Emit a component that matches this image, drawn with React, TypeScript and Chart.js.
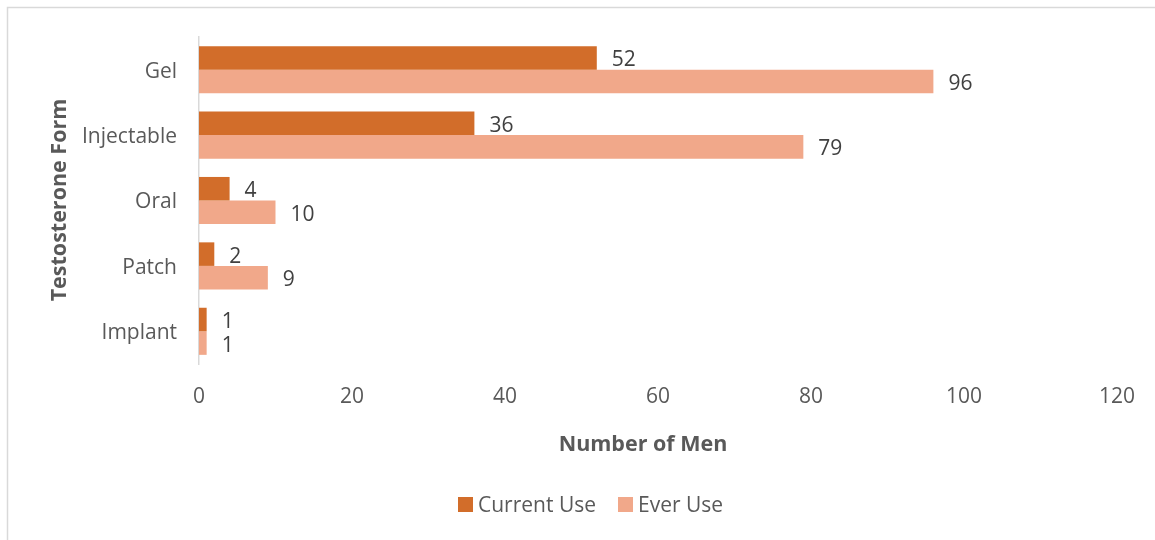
import React, { useEffect, useRef } from "react";
import { Chart, registerables } from "chart.js";

Chart.register(...registerables);

const categories = ["Gel", "Injectable", "Oral", "Patch", "Implant"];
const currentUse = [52, 36, 4, 2, 1];
const everUse = [96, 79, 10, 9, 1];
const seriesNames = ["Current Use", "Ever Use"];
const xTitle = "Number of Men";
const yTitle = "Testosterone Form";

const DARK = "#D26D2A";
const LIGHT = "#F1A88A";
const FONT = "'Open Sans', Lato, sans-serif";

const decorPlugin = {
  id: "decor",
  beforeDraw(chart: any) {
    const ctx = chart.ctx;
    ctx.save();
    ctx.strokeStyle = "#D9D9D9";
    ctx.lineWidth = 1.5;
    ctx.beginPath();
    ctx.moveTo(7.5, 540);
    ctx.lineTo(7.5, 7.5);
    ctx.lineTo(1155, 7.5);
    ctx.stroke();
    ctx.restore();
  },
  afterDatasetsDraw(chart: any) {
    const ctx = chart.ctx;
    ctx.save();
    ctx.font = `21px ${FONT}`;
    ctx.fillStyle = "#404040";
    ctx.textAlign = "left";
    ctx.textBaseline = "middle";
    chart.data.datasets.forEach((ds: any, i: number) => {
      const meta = chart.getDatasetMeta(i);
      meta.data.forEach((bar: any, j: number) => {
        ctx.fillText(String(ds.data[j]), bar.x + 15, bar.y + 2.5);
      });
    });
    ctx.restore();
  },
  afterDraw(chart: any) {
    const ctx = chart.ctx;
    ctx.save();
    ctx.fillStyle = "#595959";
    ctx.font = `bold 21.5px ${FONT}`;
    ctx.textAlign = "center";
    ctx.textBaseline = "middle";
    ctx.fillText(xTitle, 643, 445);
    ctx.translate(60, 200);
    ctx.rotate(-Math.PI / 2);
    ctx.fillText(yTitle, 0, 0);
    ctx.restore();

    // legend
    ctx.save();
    ctx.font = `21px ${FONT}`;
    ctx.textBaseline = "middle";
    ctx.textAlign = "left";
    const colors = [DARK, LIGHT];
    const xs = [458, 618];
    seriesNames.forEach((name, i) => {
      ctx.fillStyle = colors[i];
      ctx.fillRect(xs[i], 497, 15, 15);
      ctx.fillStyle = "#595959";
      ctx.fillText(name, xs[i] + 20, 506);
    });
    ctx.restore();
  },
};

export default function App() {
  const ref = useRef<HTMLCanvasElement>(null);
  useEffect(() => {
    if (!ref.current) return;
    const chart = new Chart(ref.current, {
      type: "bar",
      data: {
        labels: categories,
        datasets: [
          { label: seriesNames[0], data: currentUse, backgroundColor: DARK },
          { label: seriesNames[1], data: everUse, backgroundColor: LIGHT },
        ],
      },
      options: {
        indexAxis: "y",
        responsive: false,
        animation: false,
        devicePixelRatio: 1,
        layout: { padding: { top: 37, right: 36, bottom: 0, left: 0 } },
        datasets: { bar: { categoryPercentage: 0.72, barPercentage: 1 } },
        plugins: { legend: { display: false }, tooltip: { enabled: false } },
        scales: {
          x: {
            min: 0,
            max: 120,
            ticks: { stepSize: 20, color: "#595959", font: { family: FONT, size: 21 }, padding: 20 },
            grid: { display: false, drawTicks: false },
            border: { display: false },
            afterFit(scale: any) {
              scale.height = 540 - 364;
            },
          },
          y: {
            ticks: { color: "#595959", font: { family: FONT, size: 21 }, padding: 22, labelOffset: 2 },
            grid: { display: false, drawTicks: false },
            border: { display: true, color: "#D9D9D9", width: 1.5 },
            afterFit(scale: any) {
              scale.width = 199;
            },
          },
        },
      },
      plugins: [decorPlugin],
    } as any);
    return () => chart.destroy();
  }, []);
  return (
    <div style={{ position: "absolute", left: 0, top: 0, width: 1155, height: 540, background: "#fff" }}>
      <canvas ref={ref} width={1155} height={540} style={{ display: "block" }} />
    </div>
  );
}
